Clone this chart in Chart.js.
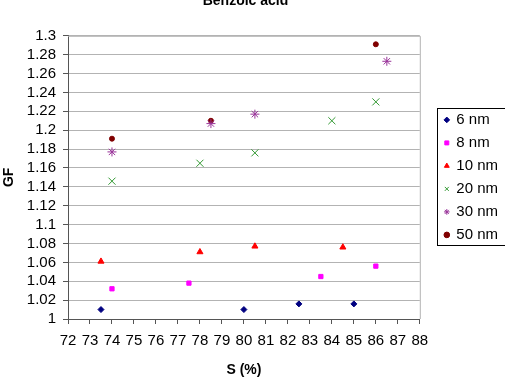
<!DOCTYPE html>
<html lang="en">
<head>
    <meta charset="UTF-8">
    <title>Benzoic acid</title>
    <script src="https://cdn.jsdelivr.net/npm/chart.js"></script>
    <style>
        body { margin: 0; background: #fff; overflow: hidden; }
        .wrap { position: absolute; left: 0; top: -12px; width: 505px; height: 396px; }
    </style>
</head>
<body>
    <div class="wrap"><canvas id="gfChart"></canvas></div>

    <script>
        // S (%) and GF values
        const s6 = [73.5, 80, 82.5, 85];
        const gf6 = [1.01, 1.01, 1.016, 1.016];
        const s8 = [74, 77.5, 83.5, 86];
        const gf8 = [1.032, 1.038, 1.045, 1.056];
        const s10 = [73.5, 78, 80.5, 84.5];
        const gf10 = [1.061, 1.071, 1.077, 1.076];
        const s20 = [74, 78, 80.5, 84, 86];
        const gf20 = [1.146, 1.165, 1.176, 1.21, 1.23];
        const s30 = [74, 78.5, 80.5, 86.5];
        const gf30 = [1.177, 1.207, 1.217, 1.273];
        const s50 = [74, 78.5, 86];
        const gf50 = [1.191, 1.21, 1.291];

        const seriesNames = ['6 nm', '8 nm', '10 nm', '20 nm', '30 nm', '50 nm'];

        function pts(xs, ys) {
            return xs.map((x, i) => ({ x: x, y: ys[i] }));
        }

        const font = 'Liberation Sans, Arial, sans-serif';

        // push the legend away from the plot and frame it, like the original
        const boxes = {
            id: 'boxes',
            afterLayout(chart) {
                const lg = chart.legend;
                lg.left += 17;
                lg.right += 17;
            },
            afterDraw(chart) {
                const ctx = chart.ctx;
                const a = chart.chartArea;
                ctx.save();
                ctx.strokeStyle = '#b3b3b3';
                ctx.lineWidth = 1;
                ctx.beginPath();
                ctx.moveTo(a.left, a.top + 0.5);
                ctx.lineTo(a.right + 0.5, a.top + 0.5);
                ctx.lineTo(a.right + 0.5, a.bottom);
                ctx.stroke();
                const lg = chart.legend;
                ctx.strokeStyle = '#000';
                ctx.strokeRect(Math.round(lg.left) + 0.5, 120.5, 80, 137);
                ctx.restore();
            }
        };

        const ctx = document.getElementById('gfChart').getContext('2d');
        new Chart(ctx, {
            type: 'scatter',
            data: {
                datasets: [
                    { label: seriesNames[0], data: pts(s6, gf6), pointStyle: 'rectRot', radius: 3,
                      backgroundColor: '#000080', borderColor: '#000080', borderWidth: 1 },
                    { label: seriesNames[1], data: pts(s8, gf8), pointStyle: 'rect', radius: 3,
                      backgroundColor: '#ff00ff', borderColor: '#ff00ff', borderWidth: 1 },
                    { label: seriesNames[2], data: pts(s10, gf10), pointStyle: 'triangle', radius: 3.5,
                      backgroundColor: '#ff0000', borderColor: '#ff0000', borderWidth: 1 },
                    { label: seriesNames[3], data: pts(s20, gf20), pointStyle: 'crossRot', radius: 5,
                      backgroundColor: '#339933', borderColor: '#339933', borderWidth: 1 },
                    { label: seriesNames[4], data: pts(s30, gf30), pointStyle: 'star', radius: 4.5,
                      backgroundColor: '#993399', borderColor: '#993399', borderWidth: 1 },
                    { label: seriesNames[5], data: pts(s50, gf50), pointStyle: 'circle', radius: 2.5,
                      backgroundColor: '#800000', borderColor: '#800000', borderWidth: 1 }
                ]
            },
            options: {
                responsive: true,
                maintainAspectRatio: false,
                animation: false,
                layout: { padding: { right: 14 } },
                plugins: {
                    title: {
                        display: true,
                        text: 'Benzoic acid',
                        color: '#000',
                        font: { family: font, size: 14, weight: 'bold' },
                        padding: { top: 5, bottom: 26 }
                    },
                    legend: {
                        position: 'right',
                        fullSize: false,
                        labels: {
                            usePointStyle: true,
                            boxWidth: 4,
                            boxHeight: 4,
                            padding: 8,
                            color: '#000',
                            font: { family: font, size: 15 }
                        }
                    },
                    tooltip: { enabled: false }
                },
                scales: {
                    x: {
                        type: 'linear',
                        min: 72,
                        max: 88,
                        afterFit: s => { s.height = 65; },
                        ticks: {
                            stepSize: 1,
                            color: '#000',
                            padding: 8,
                            maxRotation: 0,
                            autoSkip: false,
                            font: { family: font, size: 15 }
                        },
                        grid: { drawOnChartArea: false, drawTicks: true, tickLength: 5, color: '#555' },
                        border: { color: '#555' },
                        title: {
                            display: true,
                            text: 'S (%)',
                            color: '#000',
                            font: { family: font, size: 14, weight: 'bold' },
                            padding: { top: 4, bottom: 5 }
                        }
                    },
                    y: {
                        min: 1,
                        max: 1.3,
                        afterFit: s => { s.width = 68; },
                        ticks: {
                            stepSize: 0.02,
                            color: '#000',
                            padding: 7,
                            autoSkip: false,
                            font: { family: font, size: 15 },
                            callback: v => String(parseFloat(v.toFixed(2)))
                        },
                        grid: { color: '#b3b3b3', tickLength: 5, tickColor: '#555' },
                        border: { color: '#555' },
                        title: {
                            display: true,
                            text: 'GF',
                            color: '#000',
                            font: { family: font, size: 14, weight: 'bold' },
                            padding: { top: 1, bottom: 0 }
                        }
                    }
                }
            },
            plugins: [boxes]
        });
    </script>
</body>
</html>
